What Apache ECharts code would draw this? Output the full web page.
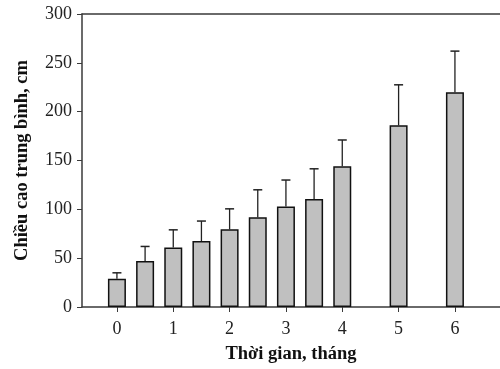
<!DOCTYPE html>
<html>
<head>
<meta charset="utf-8">
<script src="https://cdn.jsdelivr.net/npm/echarts@6/dist/echarts.min.js"></script>
<style>
  html, body { margin: 0; padding: 0; background: #fff; }
  #chart { width: 500px; height: 369px; }
</style>
</head>
<body>
<div id="chart"></div>
<script>
// time in months, mean height and upper error bar (mean + sd)
const months = [0, 0.5, 1, 1.5, 2, 2.5, 3, 3.5, 4, 5, 6]
const means = [29, 47, 61, 67.5, 79.5, 92, 103, 110.5, 144, 186, 220]
const upper = [35, 62, 79, 88, 100.5, 120, 130, 141.5, 171, 227.5, 262]
const xTicks = [0, 1, 2, 3, 4, 5, 6]
const yTicks = [0, 50, 100, 150, 200, 250, 300]

const font = 'Liberation Serif'
const lineColor = '#3a3a3a'

let myChart = echarts.init(document.getElementById('chart'))
myChart.setOption({
  animation: false,
  grid: {
    top: 14,
    left: 82,
    right: 0,
    bottom: 62
  },
  xAxis: [{
    type: 'value',
    min: -0.62,
    max: 6.8,
    name: 'Thời gian, tháng',
    nameLocation: 'middle',
    nameGap: 38,
    nameTextStyle: {
      fontFamily: font,
      fontWeight: 'bold',
      fontSize: 18.5,
      color: '#111'
    },
    axisLine: {
      onZero: false,
      lineStyle: { color: lineColor, width: 1.5 }
    },
    axisTick: {
      show: true,
      length: 5,
      customValues: xTicks,
      lineStyle: { color: lineColor }
    },
    axisLabel: {
      customValues: xTicks,
      margin: 13,
      fontFamily: font,
      fontSize: 18,
      color: '#222'
    },
    splitLine: { show: false }
  }, {
    type: 'value',
    position: 'top',
    min: -0.62,
    max: 6.8,
    axisLine: {
      show: true,
      onZero: false,
      lineStyle: { color: lineColor, width: 1.5 }
    },
    axisTick: { show: false },
    axisLabel: { show: false },
    splitLine: { show: false }
  }],
  yAxis: {
    type: 'value',
    min: 0,
    max: 300,
    interval: 50,
    name: 'Chiều cao trung bình, cm',
    nameLocation: 'middle',
    nameGap: 50,
    nameTextStyle: {
      fontFamily: font,
      fontWeight: 'bold',
      fontSize: 18.5,
      color: '#111'
    },
    axisLine: {
      show: true,
      onZero: false,
      lineStyle: { color: lineColor, width: 1.5 }
    },
    axisTick: {
      show: true,
      length: 5,
      lineStyle: { color: lineColor }
    },
    axisLabel: {
      margin: 10,
      fontFamily: font,
      fontSize: 18,
      color: '#222',
      formatter: v => yTicks.includes(v) ? String(v) : ''
    },
    splitLine: { show: false }
  },
  series: [{
    type: 'bar',
    barWidth: 18,
    itemStyle: {
      color: '#c0c0c0',
      borderColor: '#111',
      borderWidth: 1.5
    },
    data: months.map((m, i) => [m, means[i]])
  }, {
    type: 'custom',
    renderItem: function (params, api) {
      let top = api.coord([api.value(0), api.value(2)])
      let base = api.coord([api.value(0), api.value(1)])
      let half = 4.5
      return {
        type: 'group',
        children: [{
          type: 'line',
          shape: { x1: base[0], y1: base[1], x2: top[0], y2: top[1] },
          style: { stroke: '#222', lineWidth: 1.3 }
        }, {
          type: 'line',
          shape: { x1: top[0] - half, y1: top[1], x2: top[0] + half, y2: top[1] },
          style: { stroke: '#222', lineWidth: 1.5 }
        }]
      }
    },
    data: months.map((m, i) => [m, means[i], upper[i]])
  }]
})
</script>
</body>
</html>
